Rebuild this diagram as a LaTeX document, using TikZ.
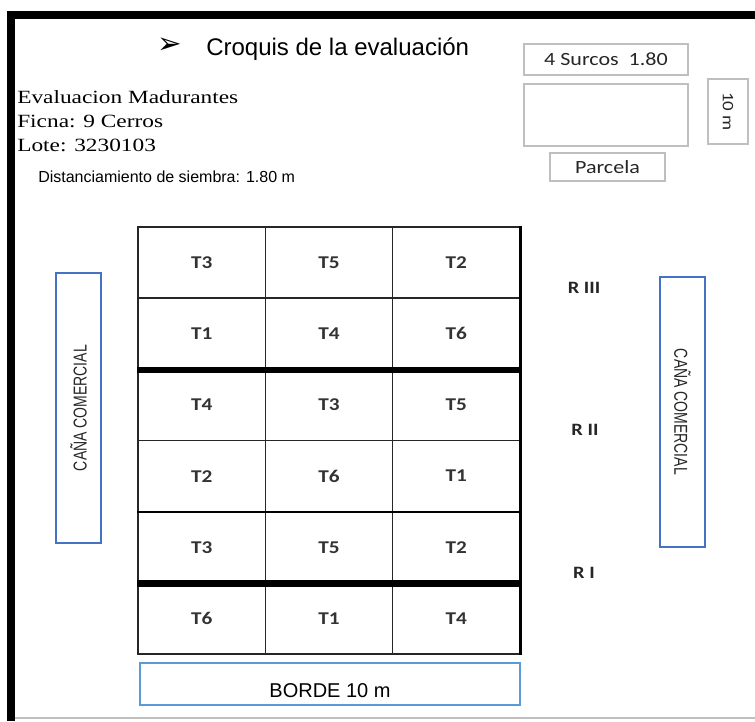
\documentclass[tikz,border=0pt]{standalone}
\usepackage{fontspec}
\setmainfont{Liberation Sans}
\newfontfamily\calibrifont[FakeStretch=1.18]{Carlito}
\newfontfamily\bookfont[FakeStretch=1.25]{Liberation Serif}
\newfontfamily\narrowfont[FakeStretch=0.75]{Liberation Sans}
\newfontfamily\dingfont{DejaVu Sans}
\usepackage{tikz}
\definecolor{cana}{HTML}{4472C4}
\definecolor{bordeazul}{HTML}{5B9BD5}
\definecolor{gris}{HTML}{BFBFBF}
\definecolor{textogris}{HTML}{262626}
\tikzset{
    celda/.style={draw=black!85, line width=1.1pt, minimum width=95.5pt, minimum height=53.4pt, inner sep=0pt,
        font=\calibrifont\bfseries\fontsize{13.5}{16}\selectfont, text=black!80},
    division/.style={line width=5pt},
    canabox/.style={draw=cana, line width=1.3pt, minimum width=202.5pt, minimum height=33.75pt, inner sep=0pt,
        font=\narrowfont\fontsize{14}{16}\selectfont, text=black!85},
    grisbox/.style={draw=gris, line width=1.1pt, inner sep=0pt, font=\calibrifont\fontsize{14}{16}\selectfont, text=textogris},
    rep/.style={font=\calibrifont\bfseries\fontsize{13}{15}\selectfont, text=black!85},
    linea/.style={anchor=base west, inner sep=0pt}
}
\newcommand{\parcela}[4]{
    \node[celda] (#1) at (#2,#3) {#4};
}

\begin{document}
\begin{tikzpicture}[x=0.75pt,y=-0.75pt]
            \useasboundingbox (0,0) rectangle (755,721);
            \draw[line width=6pt] (11,721) -- (11,15) -- (755,15);
            \draw[gris, line width=1.2pt] (15,718) -- (755,718);
            \node[linea, font=\dingfont\fontsize{22}{24}\selectfont] (flecha) at (157,53) {➢};
            \node[linea, font=\fontsize{18}{22}\selectfont] (titulo) at (206,55) {Croquis de la evaluación};
            \node[linea, font=\bookfont\fontsize{14}{16}\selectfont] (ensayo) at (17,103) {Evaluacion Madurantes};
            \node[linea, font=\bookfont\fontsize{14}{16}\selectfont] (finca) at (17,127) {Ficna: 9 Cerros};
            \node[linea, font=\bookfont\fontsize{14}{16}\selectfont] (lote) at (17,151) {Lote: 3230103};
            \node[linea, font=\fontsize{12}{14}\selectfont] (dist) at (38,182) {Distanciamiento de siembra: 1.80 m};
            \node[grisbox, minimum width=123pt, minimum height=23.25pt] (surcos) at (606,59.5) {4 Surcos\ \ 1.80};
            \node[grisbox, minimum width=123pt, minimum height=46.5pt] (modelo) at (606,115) {};
            \node[grisbox, rotate=-90, minimum width=48.75pt, minimum height=30pt, font=\calibrifont\fontsize{12}{14}\selectfont] (largo) at (728,111.5) {10 m};
            \node[grisbox, minimum width=86.25pt, minimum height=21pt] (nombre) at (607.5,167) {Parcela};
            \parcela{p11}{201.7}{262.6}{T3}
            \parcela{p12}{329}{262.6}{T5}
            \parcela{p13}{456.3}{262.6}{T2}
            \parcela{p21}{201.7}{333.8}{T1}
            \parcela{p22}{329}{333.8}{T4}
            \parcela{p23}{456.3}{333.8}{T6}
            \parcela{p31}{201.7}{404.9}{T4}
            \parcela{p32}{329}{404.9}{T3}
            \parcela{p33}{456.3}{404.9}{T5}
            \parcela{p41}{201.7}{476.1}{T2}
            \parcela{p42}{329}{476.1}{T6}
            \parcela{p43}{456.3}{476.1}{T1}
            \parcela{p51}{201.7}{547.3}{T3}
            \parcela{p52}{329}{547.3}{T5}
            \parcela{p53}{456.3}{547.3}{T2}
            \parcela{p61}{201.7}{618.4}{T6}
            \parcela{p62}{329}{618.4}{T1}
            \parcela{p63}{456.3}{618.4}{T4}
            \draw[division] (p21.south west) -- (p23.south east);
            \draw[division] (p51.south west) -- (p53.south east);
            \draw[line width=1.5pt] (p41.south west) -- (p43.south east);
            \draw[line width=2.3pt] (p13.north east) -- (p63.south east);
            \node[rep] (r3) at (584,288) {R III};
            \node[rep] (r2) at (585,430) {R II};
            \node[rep] (r1) at (584,573) {R I};
            \node[canabox, rotate=90] (izq) at (78.5,408) {CAÑA COMERCIAL};
            \node[canabox, rotate=-90] (der) at (682.5,412) {CAÑA COMERCIAL};
            \node[draw=bordeazul, line width=2pt, minimum width=285pt, minimum height=31.5pt] (borde) at (330,684) {};
            \node[anchor=base, inner sep=0pt, font=\fontsize{15}{17}\selectfont] (tborde) at (330,697) {BORDE 10 m};
        \end{tikzpicture}
\end{document}
